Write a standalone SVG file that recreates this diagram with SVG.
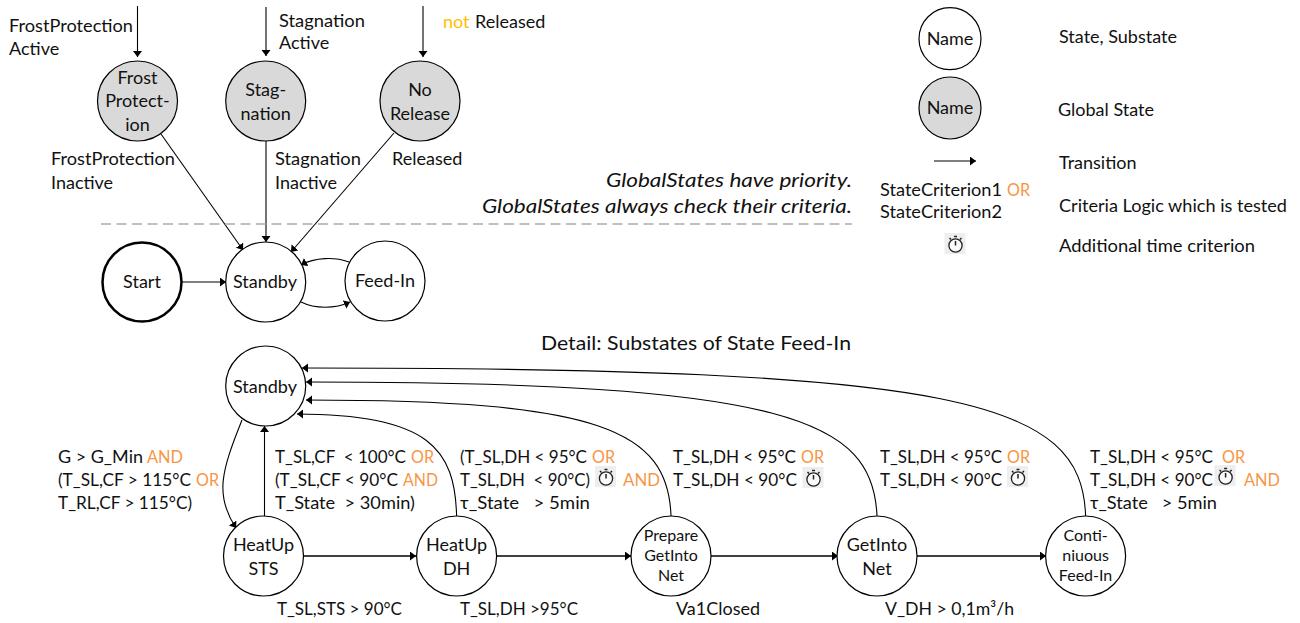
<svg xmlns="http://www.w3.org/2000/svg" xmlns:xlink="http://www.w3.org/1999/xlink" width="1300" height="623" viewBox="0 0 1300 623">
<style>
text{font-family:"Lato","Open Sans",sans-serif;font-size:18px;fill:#111;white-space:pre}
.m{text-anchor:middle}
.s{font-size:16px}
.l{font-size:17.4px}
.i{font-style:italic;font-size:20px;text-anchor:end}
.d{font-size:19px}
.o{fill:#F79646}
.y{fill:#FFC000}
.n{fill:#fff;stroke:#000;stroke-width:1.2}
.g{fill:#d9d9d9;stroke:#000;stroke-width:1.2}
.c{fill:none;stroke:#000;stroke-width:1.1;marker-end:url(#a)}
</style>
<defs>
<marker id="a" markerUnits="userSpaceOnUse" markerWidth="7" markerHeight="10" refX="6" refY="4.5" orient="auto"><path d="M0 0L6 4.5L0 9z" fill="#000"/></marker>
<g id="t">
<rect x="-11" y="-11" width="21" height="21" fill="#eee"/>
<circle cx="0" cy="1.5" r="6.6" fill="#fafafa" stroke="#222" stroke-width="1.3"/>
<path d="M0 1.5V-3M-1.5-7.5H1.5M-6-6L-4.5-4.5M6-6L4.5-4.5" stroke="#222" stroke-width="1.5" fill="none"/>
</g>
</defs>
<g id="connectors">
<path class="c" d="M137.500 6V57"/>
<path class="c" d="M266 7V56"/>
<path class="c" d="M423 6V57"/>
<path class="c" d="M161 134L243 250"/>
<path class="c" d="M266 141V242"/>
<path class="c" d="M394 133L291 252"/>
<path class="c" d="M182 282H226"/>
<path class="c" d="M349 262C335 257 315 257 301 265"/>
<path class="c" d="M301 302C315 309 335 309 350 302"/>
<path class="c" d="M934 161H976"/>
<path class="c" d="M264.500 516V426"/>
<path class="c" d="M242 420C222 470 214 495 236 528"/>
<path class="c" d="M456.600 516C455 450 430 414 297 414"/>
<path class="c" d="M671 516C668 430 600 400 306 400"/>
<path class="c" d="M877 516C873 420 790 382 306 382"/>
<path class="c" d="M1085.600 516C1082 400 960 368 302 368"/>
<path class="c" style="stroke-width:1.5" d="M303 556H416"/>
<path class="c" style="stroke-width:1.5" d="M496 556H631"/>
<path class="c" style="stroke-width:1.5" d="M711 556H838"/>
<path class="c" style="stroke-width:1.5" d="M917 556H1046"/>
</g>
<path id="divider" d="M101 224H852" stroke="#aaa" stroke-width="1.6" stroke-dasharray="10 5.500" fill="none"/>
<g id="n-frost"><circle class="g" cx="137.500" cy="101" r="40"/><text class="m" x="137.500" y="84">Frost</text><text class="m" x="137.500" y="107">Protect-</text><text class="m" x="137.500" y="131">ion</text></g>
<g id="n-stagnation"><circle class="g" cx="265.700" cy="101" r="40"/><text class="m" x="265.700" y="96">Stag-</text><text class="m" x="265.700" y="120">nation</text></g>
<g id="n-norelease"><circle class="g" cx="420" cy="101" r="40"/><text class="m" x="420" y="96">No</text><text class="m" x="420" y="120">Release</text></g>
<g id="n-start"><circle class="n" style="stroke-width:2.500" cx="142" cy="282" r="39.500"/><text class="m" x="142" y="288">Start</text></g>
<g id="n-standby"><circle class="n" cx="265.700" cy="282" r="40"/><text class="m" x="265" y="288">Standby</text></g>
<g id="n-feedin"><circle class="n" cx="385" cy="281" r="40"/><text class="m" x="385" y="287">Feed-In</text></g>
<g id="n-standby2"><circle class="n" cx="265.700" cy="386" r="40"/><text class="m" x="265" y="393">Standby</text></g>
<g id="n-heatupsts"><circle class="n" cx="263.500" cy="556" r="40"/><text class="m" x="263.500" y="551">HeatUp</text><text class="m" x="263.500" y="575">STS</text></g>
<g id="n-heatupdh"><circle class="n" cx="456.600" cy="556" r="40"/><text class="m" x="456.600" y="551">HeatUp</text><text class="m" x="456.600" y="575">DH</text></g>
<g id="n-prepare"><circle class="n" cx="671" cy="556" r="40"/><text class="m s" x="671" y="541">Prepare</text><text class="m s" x="671" y="561">GetInto</text><text class="m s" x="671" y="581">Net</text></g>
<g id="n-getinto"><circle class="n" cx="877" cy="556" r="40"/><text class="m" x="877" y="551">GetInto</text><text class="m" x="877" y="575">Net</text></g>
<g id="n-conti"><circle class="n" cx="1085.600" cy="556" r="40"/><text class="m s" x="1085.600" y="541">Conti-</text><text class="m s" x="1085.600" y="561">niuous</text><text class="m s" x="1085.600" y="581">Feed-In</text></g>
<g id="legend-state"><circle class="n" cx="950" cy="38.700" r="31"/><text class="m" x="950" y="45">Name</text></g>
<g id="legend-global"><circle class="g" cx="950" cy="108" r="31"/><text class="m" x="950" y="114">Name</text></g>
<g id="labels">
<text x="9" y="32" textLength="124" lengthAdjust="spacingAndGlyphs">FrostProtection</text><text x="9" y="55">Active</text>
<text x="279" y="27" textLength="86" lengthAdjust="spacingAndGlyphs">Stagnation</text><text x="279" y="49">Active</text>
<text class="y" x="443" y="28">not</text><text x="475" y="28">Released</text>
<text x="51" y="165" textLength="124" lengthAdjust="spacingAndGlyphs">FrostProtection</text><text x="51" y="189">Inactive</text>
<text x="275" y="165" textLength="86" lengthAdjust="spacingAndGlyphs">Stagnation</text><text x="275" y="189">Inactive</text>
<text x="392" y="165">Released</text>
<text class="i" x="852" y="187" textLength="246" lengthAdjust="spacingAndGlyphs">GlobalStates have priority.</text>
<text class="i" x="852" y="213" textLength="370" lengthAdjust="spacingAndGlyphs">GlobalStates always check their criteria.</text>
<text x="1059" y="43">State, Substate</text>
<text x="1058" y="116">Global State</text>
<text x="1059" y="169">Transition</text>
<text x="880" y="196" textLength="122" lengthAdjust="spacingAndGlyphs">StateCriterion1</text><text class="o" x="1007" y="196" textLength="23" lengthAdjust="spacingAndGlyphs">OR</text>
<text x="880" y="218" textLength="122" lengthAdjust="spacingAndGlyphs">StateCriterion2</text>
<text x="1059" y="212" textLength="228" lengthAdjust="spacingAndGlyphs">Criteria Logic which is tested</text>
<text x="1059" y="252" textLength="196" lengthAdjust="spacingAndGlyphs">Additional time criterion</text>
<text class="d" x="541" y="350" textLength="310" lengthAdjust="spacingAndGlyphs">Detail: Substates of State Feed-In</text>
<g class="lower">
<text class="l" x="58" y="463" textLength="85" lengthAdjust="spacingAndGlyphs">G &gt; G_Min</text><text class="l o" x="147" y="463" textLength="36" lengthAdjust="spacingAndGlyphs">AND</text>
<text class="l" x="58" y="486" textLength="133" lengthAdjust="spacingAndGlyphs">(T_SL,CF &gt; 115°C</text><text class="l o" x="196" y="486" textLength="23" lengthAdjust="spacingAndGlyphs">OR</text>
<text class="l" x="58" y="509" textLength="134" lengthAdjust="spacingAndGlyphs">T_RL,CF &gt; 115°C)</text>
<text class="l" x="275" y="463" textLength="131" lengthAdjust="spacingAndGlyphs">T_SL,CF  &lt; 100°C</text><text class="l o" x="411" y="463" textLength="23" lengthAdjust="spacingAndGlyphs">OR</text>
<text class="l" x="275" y="486" textLength="123" lengthAdjust="spacingAndGlyphs">(T_SL,CF &lt; 90°C</text><text class="l o" x="403" y="486" textLength="35" lengthAdjust="spacingAndGlyphs">AND</text>
<text class="l" x="275" y="509" textLength="140" lengthAdjust="spacingAndGlyphs">T_State  &gt; 30min)</text>
<text class="l" x="460" y="463" textLength="127" lengthAdjust="spacingAndGlyphs">(T_SL,DH &lt; 95°C</text><text class="l o" x="592" y="463" textLength="23" lengthAdjust="spacingAndGlyphs">OR</text>
<text class="l" x="460" y="486" textLength="130" lengthAdjust="spacingAndGlyphs">T_SL,DH  &lt; 90°C)</text>
<text class="l o" x="623" y="486" textLength="37" lengthAdjust="spacingAndGlyphs">AND</text>
<text class="l" x="460" y="509" textLength="130" lengthAdjust="spacingAndGlyphs">τ_State   &gt; 5min</text>
<text class="l" x="673" y="463" textLength="123" lengthAdjust="spacingAndGlyphs">T_SL,DH &lt; 95°C</text><text class="l o" x="801" y="463" textLength="23" lengthAdjust="spacingAndGlyphs">OR</text>
<text class="l" x="673" y="486" textLength="124" lengthAdjust="spacingAndGlyphs">T_SL,DH &lt; 90°C</text>
<text class="l" x="880" y="463" textLength="122" lengthAdjust="spacingAndGlyphs">T_SL,DH &lt; 95°C</text><text class="l o" x="1007" y="463" textLength="23" lengthAdjust="spacingAndGlyphs">OR</text>
<text class="l" x="880" y="486" textLength="122" lengthAdjust="spacingAndGlyphs">T_SL,DH &lt; 90°C</text>
<text class="l" x="1090" y="463" textLength="123" lengthAdjust="spacingAndGlyphs">T_SL,DH &lt; 95°C</text><text class="l o" x="1222" y="463" textLength="23" lengthAdjust="spacingAndGlyphs">OR</text>
<text class="l" x="1090" y="486" textLength="123" lengthAdjust="spacingAndGlyphs">T_SL,DH &lt; 90°C</text>
<text class="l o" x="1244" y="486" textLength="36" lengthAdjust="spacingAndGlyphs">AND</text>
<text class="l" x="1090" y="509" textLength="127" lengthAdjust="spacingAndGlyphs">τ_State   &gt; 5min</text>
<text class="l" x="277" y="615" textLength="125" lengthAdjust="spacingAndGlyphs">T_SL,STS &gt; 90°C</text>
<text class="l" x="460" y="615" textLength="118" lengthAdjust="spacingAndGlyphs">T_SL,DH &gt;95°C</text>
<text class="l" x="676" y="615" textLength="84" lengthAdjust="spacingAndGlyphs">Va1Closed</text>
<text class="l" x="885" y="615" textLength="129" lengthAdjust="spacingAndGlyphs">V_DH &gt; 0,1m³/h</text>
</g>
</g>
<g id="timers">
<use xlink:href="#t" href="#t" x="955.500" y="244"/>
<use xlink:href="#t" href="#t" x="606" y="477"/>
<use xlink:href="#t" href="#t" x="813.500" y="478"/>
<use xlink:href="#t" href="#t" x="1018" y="477"/>
<use xlink:href="#t" href="#t" x="1225.600" y="476"/>
</g>
</svg>
